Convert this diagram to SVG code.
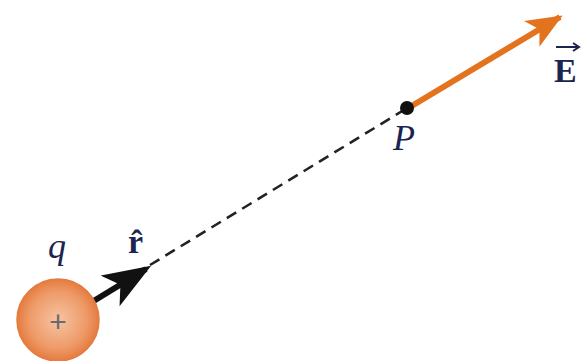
<svg xmlns="http://www.w3.org/2000/svg" width="586" height="361" viewBox="0 0 586 361">
<style>
.lbl{font-family:"Liberation Serif","Times New Roman",serif;fill:#1c2450}
.it{font-style:italic;font-size:36px}
.bd{font-weight:bold;font-size:34px}
</style>
<defs>
<radialGradient id="g" cx="0.5" cy="0.5" r="0.5">
<stop offset="0" stop-color="#f6c4a2"/>
<stop offset="0.7" stop-color="#ee9a68"/>
<stop offset="1" stop-color="#e47c40"/>
</radialGradient>
<marker id="bk" markerWidth="8" markerHeight="6" refX="7" refY="3" orient="auto" markerUnits="strokeWidth">
<path d="M0,0 L8,3 L0,6 L2,3 Z" fill="#111"/>
</marker>
<marker id="or" markerWidth="6" markerHeight="5" refX="5.5" refY="2.5" orient="auto" markerUnits="strokeWidth">
<path d="M0,0 L6,2.5 L0,5 L1.5,2.5 Z" fill="#e3731f"/>
</marker>
</defs>
<g id="connectors">
<line x1="150" y1="265" x2="404" y2="110" stroke="#222" stroke-width="2.6" stroke-dasharray="11 7"/>
<line x1="92" y1="302" x2="146" y2="269" stroke="#111" stroke-width="6" marker-end="url(#bk)"/>
<line x1="410" y1="107" x2="560" y2="17" stroke="#e3731f" stroke-width="6" marker-end="url(#or)"/>
</g>
<g id="charge">
<circle cx="58" cy="320" r="41" fill="url(#g)" stroke="#e47c40" stroke-width="1.5"/>
<text x="58" y="332" text-anchor="middle" font-family="Liberation Sans,Arial,sans-serif" font-size="30" fill="#6a6a6a">+</text>
</g>
<g id="point-P">
<circle cx="407" cy="108" r="7" fill="#111"/>
</g>
<g id="labels">
<text class="lbl it" x="48" y="258">q</text>
<text class="lbl bd" x="128" y="253">r̂</text>
<text class="lbl it" x="393" y="150">P</text>
<text class="lbl bd" x="554" y="82">E</text>
<line x1="556" y1="47" x2="578" y2="47" stroke="#1c2450" stroke-width="2"/>
<path d="M573,43 L579,47 L573,51" fill="none" stroke="#1c2450" stroke-width="2"/>
</g>
</svg>
